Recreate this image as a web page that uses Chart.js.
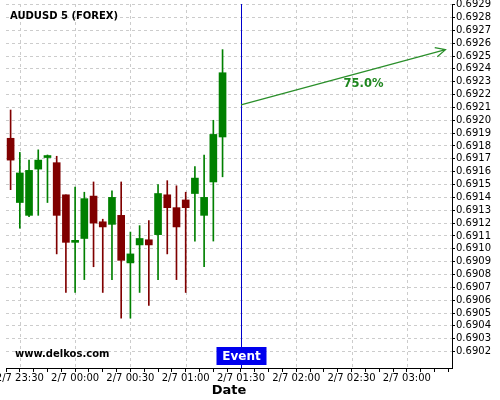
<!DOCTYPE html>
<html>
<head>
<meta charset="utf-8">
<script src="https://cdn.jsdelivr.net/npm/chart.js@4.4.0/dist/chart.umd.min.js"></script>
<style>
  html, body { margin: 0; padding: 0; background: #fff; }
  #chart { display: block; }
</style>
</head>
<body>
<canvas id="chart" width="500" height="400"></canvas>
<script>
// candle times, in minutes after 2/6 23:00 (5 minute bars)
const candleTimes = [25, 30, 35, 40, 45, 50, 55, 60, 65, 70, 75, 80,
  85, 90, 95, 100, 105, 110, 115, 120, 125, 130, 135, 140];
const opens = [0.69186, 0.69136, 0.69126, 0.69162, 0.69171, 0.69167, 0.69142, 0.69105,
  0.69108, 0.69141, 0.69121, 0.69119, 0.69126, 0.69089, 0.69103, 0.69107,
  0.69111, 0.69142, 0.69132, 0.69138, 0.69143, 0.69126, 0.69152, 0.69187];
const highs = [0.69208, 0.69175, 0.69169, 0.69177, 0.69173, 0.69172, 0.69142, 0.69148,
  0.69144, 0.69152, 0.69123, 0.69145, 0.69152, 0.69113, 0.69118, 0.69122,
  0.69150, 0.69153, 0.69149, 0.69144, 0.69164, 0.69173, 0.69200, 0.69255];
const lows = [0.69146, 0.69116, 0.69125, 0.69126, 0.69136, 0.69096, 0.69066, 0.69066,
  0.69076, 0.69086, 0.69066, 0.69076, 0.69046, 0.69046, 0.69066, 0.69056,
  0.69076, 0.69096, 0.69076, 0.69066, 0.69106, 0.69086, 0.69106, 0.69156];
const closes = [0.69169, 0.69159, 0.69161, 0.69169, 0.69171, 0.69126, 0.69105, 0.69105,
  0.69139, 0.69120, 0.69117, 0.69140, 0.69091, 0.69096, 0.69108, 0.69103,
  0.69143, 0.69132, 0.69117, 0.69132, 0.69155, 0.69140, 0.69189, 0.69237];

// x axis labels (every 30 minutes) and minor tick spots
const xLabelTimes = [30, 60, 90, 120, 150, 180, 210, 240];
const xLabels = ["2/7 23:30", "2/7 00:00", "2/7 00:30", "2/7 01:00",
  "2/7 01:30", "2/7 02:00", "2/7 02:30", "2/7 03:00"];
const xMinorTimes = [22.5, 37.5, 45, 52.5, 67.5, 75, 82.5, 97.5, 105, 112.5,
  127.5, 135, 142.5, 157.5, 165, 172.5, 187.5, 195, 202.5, 217.5, 225, 232.5,
  247.5, 255, 262.5];

const yTickLabels = ["0.6902", "0.6903", "0.6904", "0.6905", "0.6906", "0.6907",
  "0.6908", "0.6909", "0.6910", "0.6911", "0.6912", "0.6913", "0.6914", "0.6915",
  "0.6916", "0.6917", "0.6918", "0.6919", "0.6920", "0.6921", "0.6922", "0.6923",
  "0.6924", "0.6925", "0.6926", "0.6927", "0.6928", "0.6929"];

// event + forecast arrow
const eventTime = 150;
const arrowFrom = [150, 0.69212];
const arrowTo = [261, 0.69255];
const arrowText = "75.0%";
const arrowTextAt = [216.5, 0.69228];

const UP = "#008000";
const DOWN = "#800000";
const candleColors = opens.map((o, i) => (closes[i] >= o ? UP : DOWN));
const gridGray = "#cccccc";
const gridDash = [3, 3];

// vertical grid only at the labelled half hours
const xGrid = {
  id: "xGrid",
  beforeDatasetsDraw(chart) {
    const { ctx, chartArea } = chart;
    const xs = chart.scales.x;
    ctx.save();
    ctx.strokeStyle = gridGray;
    ctx.lineWidth = 1;
    ctx.setLineDash(gridDash);
    xLabelTimes.forEach((t) => {
      const x = Math.round(xs.getPixelForValue(t)) + 0.5;
      ctx.beginPath();
      ctx.moveTo(x, chartArea.top);
      ctx.lineTo(x, chartArea.bottom);
      ctx.stroke();
    });
    ctx.restore();
  },
};

const overlay = {
  id: "overlay",
  afterDatasetsDraw(chart) {
    const { ctx, chartArea } = chart;
    const xs = chart.scales.x;
    const ys = chart.scales.y;
    ctx.save();

    // event line
    const ex = Math.round(xs.getPixelForValue(eventTime)) + 0.5;
    ctx.strokeStyle = "#0000cc";
    ctx.lineWidth = 1;
    ctx.beginPath();
    ctx.moveTo(ex, chartArea.top);
    ctx.lineTo(ex, chartArea.bottom);
    ctx.stroke();

    // arrow
    const x1 = xs.getPixelForValue(arrowFrom[0]);
    const y1 = ys.getPixelForValue(arrowFrom[1]);
    const x2 = xs.getPixelForValue(arrowTo[0]);
    const y2 = ys.getPixelForValue(arrowTo[1]);
    const ang = Math.atan2(y2 - y1, x2 - x1);
    ctx.strokeStyle = "#2a8f2a";
    ctx.lineWidth = 1.2;
    ctx.beginPath();
    ctx.moveTo(x1, y1);
    ctx.lineTo(x2, y2);
    ctx.moveTo(x2 - 11 * Math.cos(ang - 0.45), y2 - 11 * Math.sin(ang - 0.45));
    ctx.lineTo(x2, y2);
    ctx.lineTo(x2 - 11 * Math.cos(ang + 0.45), y2 - 11 * Math.sin(ang + 0.45));
    ctx.stroke();

    ctx.fillStyle = "#1e861e";
    ctx.font = "bold 11.5px 'DejaVu Sans'";
    ctx.textAlign = "center";
    ctx.textBaseline = "middle";
    ctx.fillText(arrowText, xs.getPixelForValue(arrowTextAt[0]), ys.getPixelForValue(arrowTextAt[1]));

    // event box
    ctx.fillStyle = "#0000ee";
    ctx.fillRect(ex - 25, chartArea.bottom - 21, 50, 18);
    ctx.fillStyle = "#fff";
    ctx.font = "bold 12px 'DejaVu Sans'";
    ctx.fillText("Event", ex, chartArea.bottom - 11.5);

    // title, watermark, axis title
    ctx.fillStyle = "#000";
    ctx.textAlign = "left";
    ctx.textBaseline = "alphabetic";
    ctx.font = "bold 10px 'DejaVu Sans'";
    ctx.fillText("AUDUSD 5 (FOREX)", 10, 19);
    ctx.fillText("www.delkos.com", 15, 357);
    ctx.font = "bold 13px 'DejaVu Sans'";
    ctx.textAlign = "center";
    ctx.fillText("Date", (chartArea.left + chartArea.right) / 2, 394);
    ctx.restore();
  },
};

new Chart(document.getElementById("chart"), {
  type: "bar",
  data: {
    datasets: [
      {
        label: "body",
        data: candleTimes.map((t, i) => ({ x: t, y: [opens[i], closes[i]] })),
        backgroundColor: candleColors,
        barThickness: 7,
        minBarLength: 2,
        order: 0,
      },
      {
        label: "wick",
        data: candleTimes.map((t, i) => ({ x: t, y: [lows[i], highs[i]] })),
        backgroundColor: candleColors,
        barThickness: 1,
        order: 1,
      },
    ],
  },
  options: {
    responsive: false,
    animation: false,
    grouped: false,
    layout: { padding: { left: 6, top: 4, right: 0, bottom: 0 } },
    plugins: {
      legend: { display: false },
      tooltip: { enabled: false },
    },
    scales: {
      x: {
        type: "linear",
        min: 22.5,
        max: 264.5,
        offset: false,
        afterBuildTicks: (scale) => {
          scale.ticks = xLabelTimes.concat(xMinorTimes)
            .sort((a, b) => a - b)
            .map((v) => ({ value: v }));
        },
        afterFit: (scale) => {
          scale.height = 32;
          scale.paddingLeft = 0;
          scale.paddingRight = 0;
        },
        ticks: {
          autoSkip: false,
          maxRotation: 0,
          padding: 0,
          color: "#000",
          font: { family: "'DejaVu Sans'", size: 10 },
          callback: (v) => {
            const i = xLabelTimes.indexOf(v);
            return i >= 0 ? xLabels[i] : "";
          },
        },
        grid: {
          offset: false,
          drawOnChartArea: false,
          tickColor: "#000",
          tickLength: 4,
        },
        border: { color: "#000", width: 1 },
      },
      y: {
        type: "linear",
        position: "right",
        min: 0.690072,
        max: 0.692905,
        afterBuildTicks: (scale) => {
          scale.ticks = yTickLabels.map((s) => ({ value: parseFloat(s) }));
        },
        afterFit: (scale) => {
          scale.width = 48;
          scale.paddingTop = 0;
          scale.paddingBottom = 0;
        },
        ticks: {
          autoSkip: false,
          padding: 1,
          color: "#000",
          font: { family: "'DejaVu Sans'", size: 10 },
          callback: (v) => v.toFixed(4),
        },
        grid: {
          color: gridGray,
          tickColor: "#000",
          tickLength: 3,
        },
        border: { color: "#000", width: 1, dash: gridDash },
      },
    },
  },
  plugins: [xGrid, overlay],
});
</script>
</body>
</html>
